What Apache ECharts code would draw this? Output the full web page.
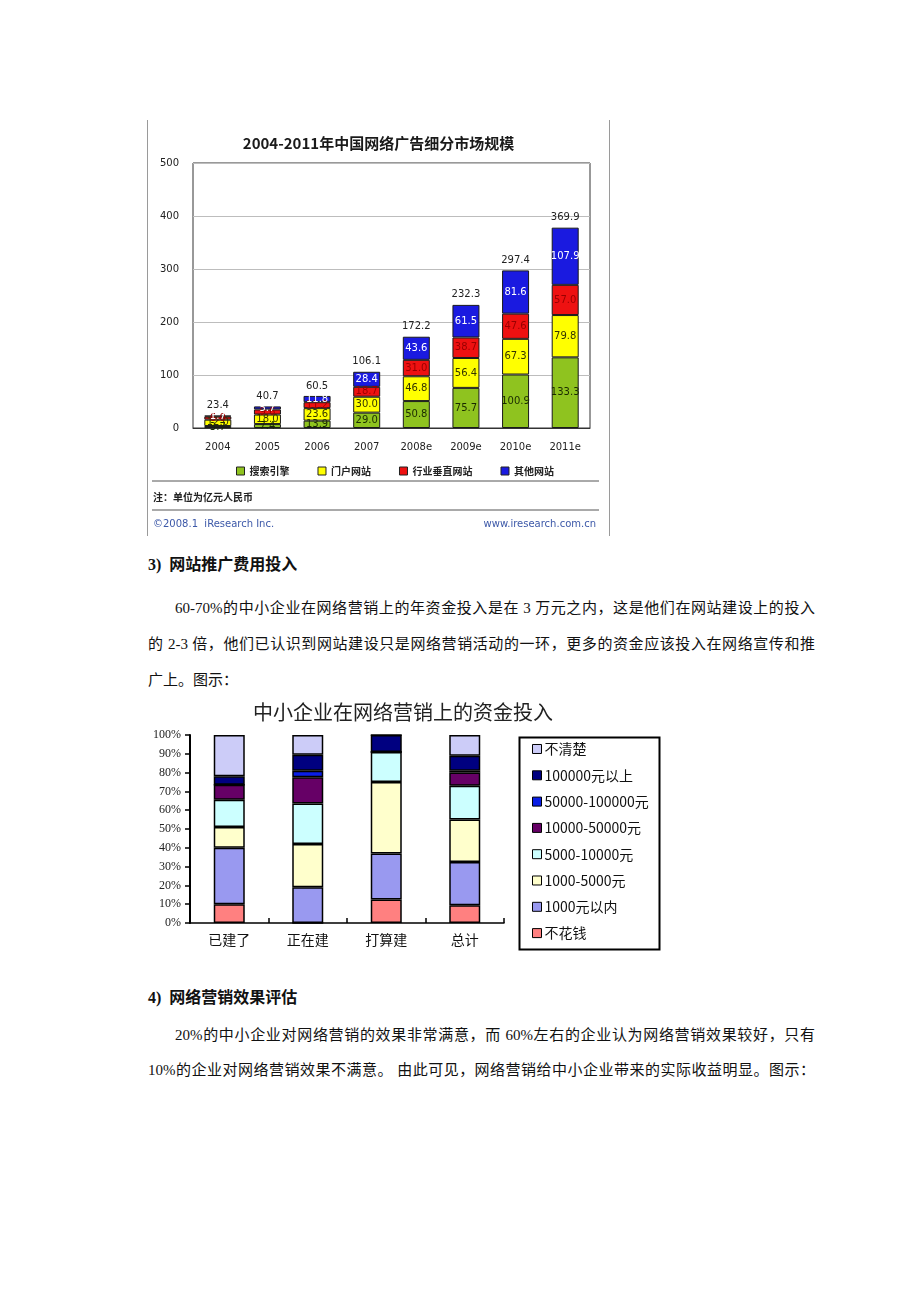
<!DOCTYPE html>
<html>
<head>
<meta charset="utf-8">
<script src="https://cdn.jsdelivr.net/npm/echarts@6/dist/echarts.min.js"></script>
<style>
  html, body { margin: 0; padding: 0; background: #fff; }
  body { width: 920px; height: 1302px; position: relative; overflow: hidden; }
  .abs { position: absolute; }
  .txt { font-family: "Liberation Serif", "Noto Sans CJK SC", serif; font-size: 15px; color: #111; line-height: 20px; white-space: nowrap; }
  .just { text-align: justify; text-align-last: justify; }
  .head { font-family: "Liberation Serif", "Noto Sans CJK SC", sans-serif; font-weight: bold; font-size: 16px; color: #111; line-height: 20px; white-space: nowrap; }
</style>
</head>
<body>
<div class="abs" style="left:147px;top:120px;width:1px;height:416px;background:#9a9a9a"></div>
<div class="abs" style="left:609px;top:120px;width:1px;height:416px;background:#9a9a9a"></div>
<div id="c1" class="abs" style="left:148px;top:120px;width:461px;height:416px"></div>

<div class="abs head" style="left:148px;top:555px">3)&nbsp; 网站推广费用投入</div>
<div class="abs txt just" style="left:175px;top:598px;width:640px">60-70%的中小企业在网络营销上的年资金投入是在 3 万元之内，这是他们在网站建设上的投入</div>
<div class="abs txt just" style="left:148px;top:634px;width:667px">的 2-3 倍，他们已认识到网站建设只是网络营销活动的一环，更多的资金应该投入在网络宣传和推</div>
<div class="abs txt" style="left:148px;top:670px">广上。图示：</div>

<div id="c2" class="abs" style="left:140px;top:695px;width:530px;height:262px"></div>

<div class="abs head" style="left:148px;top:988px">4)&nbsp; 网络营销效果评估</div>
<div class="abs txt just" style="left:175px;top:1025px;width:640px">20%的中小企业对网络营销的效果非常满意，而 60%左右的企业认为网络营销效果较好，只有</div>
<div class="abs txt just" style="left:148px;top:1060px;width:667px">10%的企业对网络营销效果不满意。 由此可见，网络营销给中小企业带来的实际收益明显。图示：</div>

<script>
// ---------- Chart 1 data ----------
const years = ['2004', '2005', '2006', '2007', '2008e', '2009e', '2010e', '2011e'];
const searchEngine = [3.7, 7.4, 13.9, 29.0, 50.8, 75.7, 100.9, 133.3];
const portal = [12.0, 18.0, 23.6, 30.0, 46.8, 56.4, 67.3, 79.8];
const vertical = [6.0, 9.6, 11.2, 18.7, 31.0, 38.7, 47.6, 57.0];
const others = [1.7, 5.7, 11.8, 28.4, 43.6, 61.5, 81.6, 107.9];
const totals = [23.4, 40.7, 60.5, 106.1, 172.2, 232.3, 297.4, 369.9];
const yTicks1 = [0, 100, 200, 300, 400, 500];

// ---------- Chart 2 data ----------
const stages = ['已建了', '正在建', '打算建', '总计'];
const noCost = [10, 0, 12.5, 9.5];
const under1000 = [30, 19, 24.5, 23];
const r1000to5000 = [11, 23, 38, 22.5];
const r5000to10000 = [14.5, 21.5, 16, 18];
const r10000to50000 = [8, 14, 0, 7];
const r50000to100000 = [0, 3.5, 0, 1];
const over100000 = [4.5, 8.5, 9, 8];
const unclear = [22, 10.5, 0, 11];

const sansFont = '"DejaVu Sans", "Noto Sans CJK SC", sans-serif';
const cjk = '"Noto Sans CJK SC", sans-serif';

// ================= Chart 1 =================
const c1 = echarts.init(document.getElementById('c1'), null, { renderer: 'canvas' });
function seg(name, data, color, labelColor) {
  return {
    name: name, type: 'bar', stack: 'a', data: data, barWidth: 27,
    itemStyle: { color: color, borderColor: '#1a1a1a', borderWidth: 1 },
    label: { show: true, position: 'inside', color: labelColor, fontSize: 10, fontFamily: sansFont,
      formatter: p => p.value.toFixed(1) }
  };
}
c1.setOption({
  animation: false,
  title: {
    text: '2004-2011年中国网络广告细分市场规模', left: 'center', top: 11,
    textStyle: { fontSize: 15, fontWeight: 'bold', color: '#1a1a1a', fontFamily: cjk }
  },
  grid: { left: 45, top: 43, width: 397, height: 265, show: true, borderColor: '#333', borderWidth: 1, backgroundColor: 'transparent' },
  legend: {
    data: ['搜索引擎', '门户网站', '行业垂直网站', '其他网站'],
    left: 83, top: 341, itemWidth: 8, itemHeight: 8, itemGap: 28, icon: 'rect',
    itemStyle: { borderColor: '#222', borderWidth: 1 },
    textStyle: { fontSize: 10, color: '#222', fontFamily: cjk, fontWeight: 'bold' }
  },
  xAxis: {
    type: 'category', data: years,
    axisLine: { lineStyle: { color: '#333' } }, axisTick: { show: false },
    axisLabel: { color: '#222', fontSize: 10, fontFamily: sansFont, margin: 14 }
  },
  yAxis: {
    type: 'value', min: yTicks1[0], max: yTicks1[yTicks1.length - 1], interval: 100,
    axisLine: { show: false }, axisTick: { show: false },
    axisLabel: { color: '#222', fontSize: 10, fontFamily: sansFont, margin: 14 },
    splitLine: { lineStyle: { color: '#bdbdbd' } }
  },
  series: [
    seg('搜索引擎', searchEngine, '#8fc31f', '#1a2a00'),
    seg('门户网站', portal, '#ffff00', '#333300'),
    seg('行业垂直网站', vertical, '#ee1111', '#9a0000'),
    seg('其他网站', others, '#1a1ae0', '#ffffff'),
    {
      name: '合计', type: 'bar', stack: 'a', barWidth: 27, data: totals.map(() => 0),
      itemStyle: { color: 'transparent', borderWidth: 0 },
      label: { show: true, position: 'top', distance: 5, color: '#222', fontSize: 10, fontFamily: sansFont,
        formatter: p => totals[p.dataIndex].toFixed(1) }
    }
  ],
  graphic: [
    { type: 'line', shape: { x1: 4, y1: 361, x2: 451, y2: 361 }, style: { stroke: '#555', lineWidth: 1 } },
    { type: 'line', shape: { x1: 4, y1: 390, x2: 451, y2: 390 }, style: { stroke: '#555', lineWidth: 1 } },
    { type: 'text', left: 5, top: 372, style: { text: '注：单位为亿元人民币', fill: '#222', font: 'bold 10px "Noto Sans CJK SC"' } },
    { type: 'text', left: 5, top: 399, style: { text: '©2008.1  iResearch Inc.', fill: '#3c58a8', font: '10px "DejaVu Sans"' } },
    { type: 'text', right: 13, top: 399, style: { text: 'www.iresearch.com.cn', fill: '#3c58a8', font: '10px "DejaVu Sans"' } }
  ]
});

// ================= Chart 2 =================
const c2 = echarts.init(document.getElementById('c2'), null, { renderer: 'canvas' });
function seg2(name, data, color) {
  return {
    name: name, type: 'bar', stack: 's', data: data, barWidth: 31,
    itemStyle: { color: color, borderColor: '#000', borderWidth: 1.5 }
  };
}
const legendOrder = ['不清楚', '100000元以上', '50000-100000元', '10000-50000元', '5000-10000元', '1000-5000元', '1000元以内', '不花钱'];
c2.setOption({
  animation: false,
  title: {
    text: '中小企业在网络营销上的资金投入', left: 258, textAlign: 'center', top: 2,
    textStyle: { fontSize: 20, fontWeight: 'normal', color: '#222', fontFamily: cjk }
  },
  grid: { left: 50, top: 40, width: 314, height: 188 },
  legend: {
    data: legendOrder, orient: 'vertical', left: 387, top: 42,
    itemWidth: 9, itemHeight: 9, itemGap: 12.3, icon: 'rect',
    itemStyle: { borderColor: '#000', borderWidth: 1 },
    textStyle: { fontSize: 14, color: '#111', fontFamily: cjk, padding: [0, 0, 0, -2] }
  },
  xAxis: {
    type: 'category', data: stages,
    axisLine: { lineStyle: { color: '#000', width: 1.5 } },
    axisTick: { show: true, inside: true, length: 5, lineStyle: { color: '#000', width: 1.5 } },
    axisLabel: { color: '#111', fontSize: 14, fontFamily: cjk, margin: 10 }
  },
  yAxis: {
    type: 'value', min: 0, max: 100, interval: 10,
    axisLine: { show: true, lineStyle: { color: '#000', width: 2 } },
    axisTick: { show: true, length: 5, lineStyle: { color: '#000', width: 1.5 } },
    axisLabel: { formatter: '{value}%', color: '#222', fontSize: 12, fontFamily: '"Liberation Serif", serif', margin: 9 },
    splitLine: { show: false }
  },
  series: [
    seg2('不花钱', noCost, '#ff8080'),
    seg2('1000元以内', under1000, '#9999f0'),
    seg2('1000-5000元', r1000to5000, '#ffffcc'),
    seg2('5000-10000元', r5000to10000, '#ccffff'),
    seg2('10000-50000元', r10000to50000, '#660066'),
    seg2('50000-100000元', r50000to100000, '#0a1ee6'),
    seg2('100000元以上', over100000, '#000080'),
    seg2('不清楚', unclear, '#ccccf8')
  ],
  graphic: [
    { type: 'rect', left: 377, top: 40, shape: { width: 140, height: 212 }, style: { fill: 'none', stroke: '#000', lineWidth: 2 }, z: 0 }
  ]
});
</script>
</body>
</html>
